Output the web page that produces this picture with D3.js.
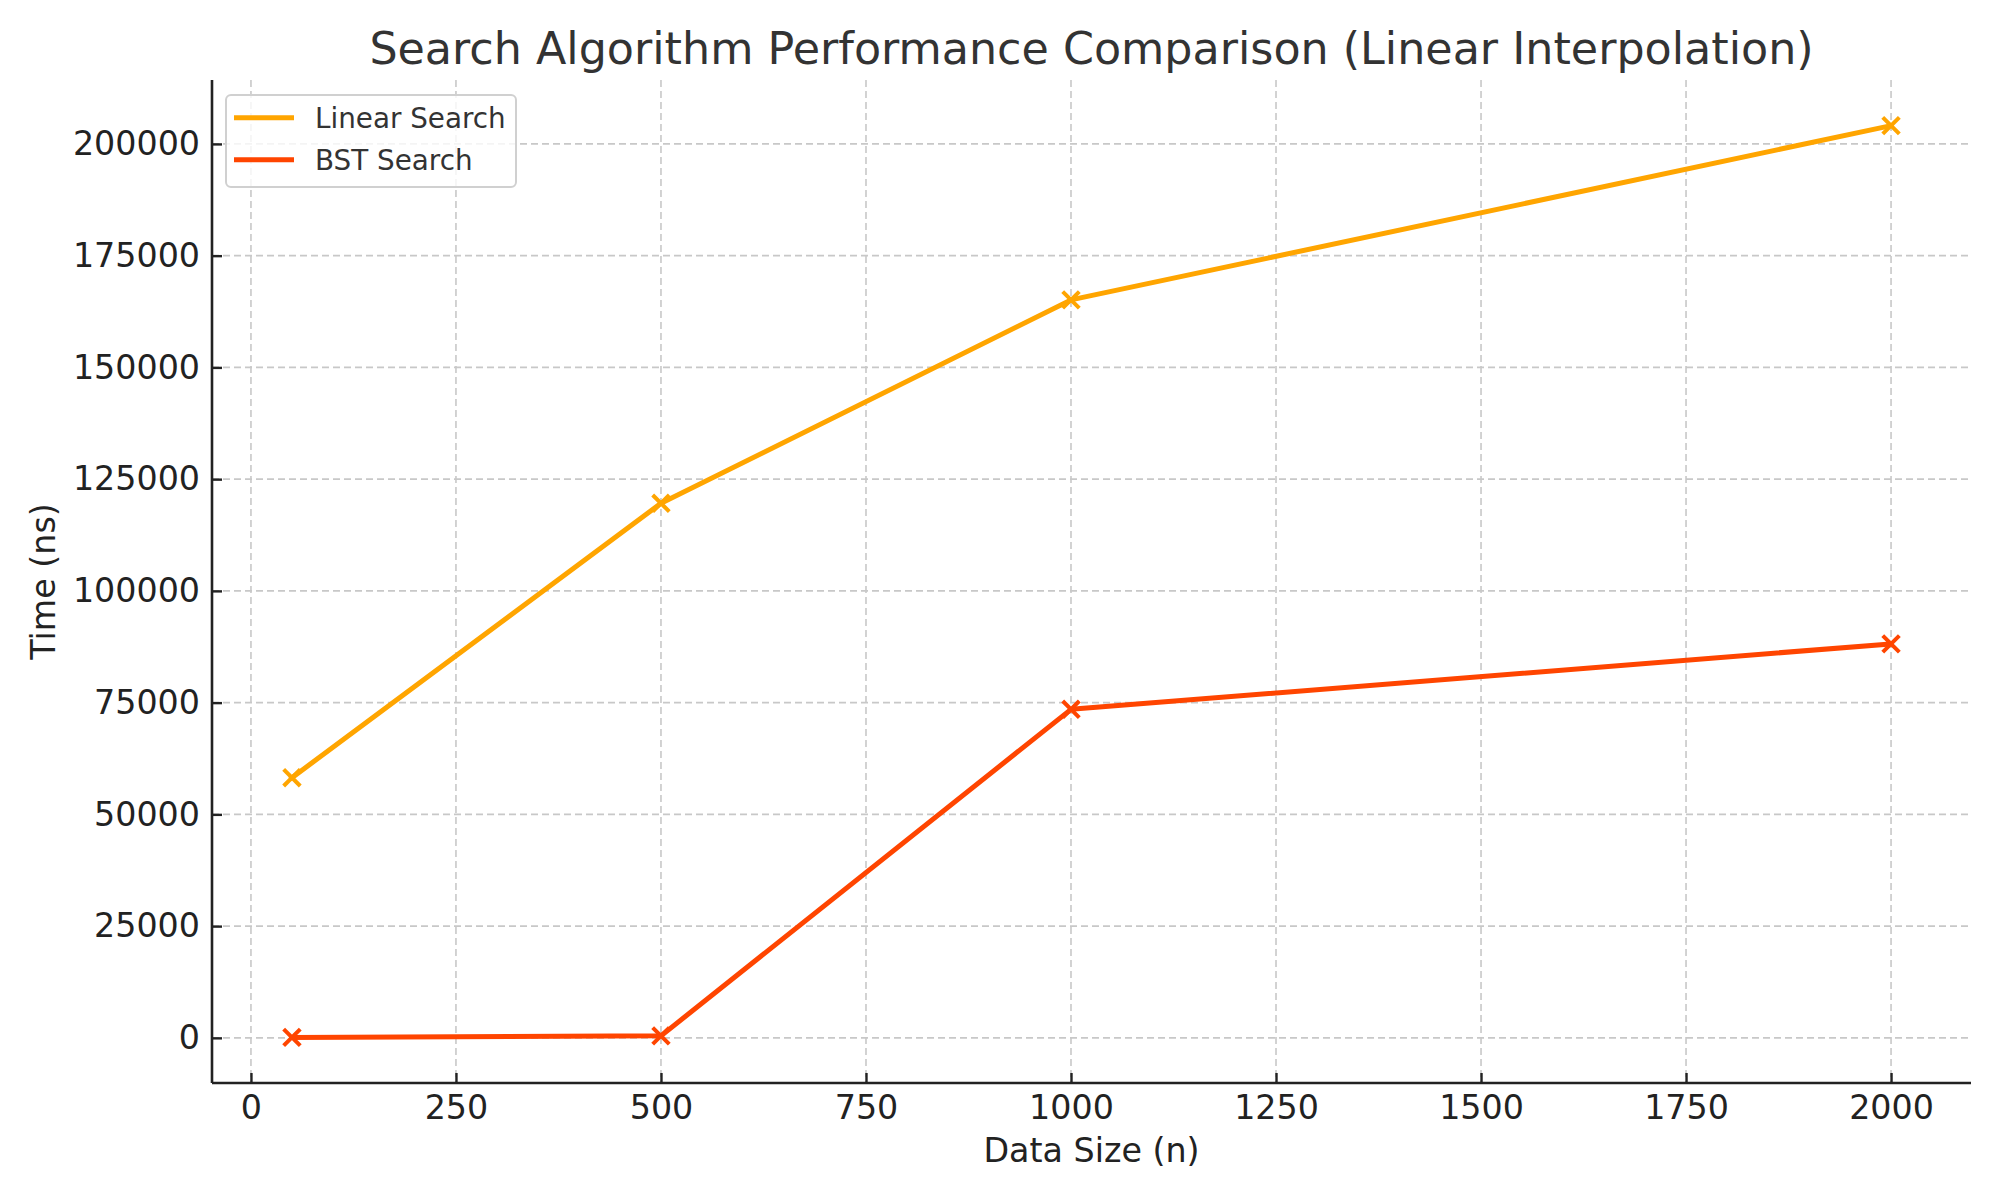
<!DOCTYPE html>
<html>
<head>
<meta charset="utf-8">
<script src="https://cdn.jsdelivr.net/npm/d3@7"></script>
<style>
  html, body { margin: 0; padding: 0; background: #fff; }
  svg { display: block; font-family: "DejaVu Sans", sans-serif; }
</style>
</head>
<body>
<svg id="chart" width="2000" height="1200"></svg>
<script>
// ---- Data ----
const dataSizes = [50, 500, 1000, 2000];
const linearTimes = [58200, 119600, 165100, 204100];
const bstTimes = [100, 450, 73500, 88150];
const seriesNames = ["Linear Search", "BST Search"];
const seriesColors = ["#FFA500", "#FF4500"];
const xTickValues = [0, 250, 500, 750, 1000, 1250, 1500, 1750, 2000];
const yTickValues = [0, 25000, 50000, 75000, 100000, 125000, 150000, 175000, 200000];
const titleText = "Search Algorithm Performance Comparison (Linear Interpolation)";
const xLabelText = "Data Size (n)";
const yLabelText = "Time (ns)";

// ---- Layout ----
const plot = { left: 212, right: 1971, top: 80, bottom: 1083 };
const svg = d3.select("#chart");

// matplotlib-like 5% margins
const xMin = d3.min(dataSizes), xMax = d3.max(dataSizes);
const xPad = (xMax - xMin) * 0.05;
const allY = linearTimes.concat(bstTimes);
const yMin = d3.min(allY), yMax = d3.max(allY);
const yPad = (yMax - yMin) * 0.05;

const x = d3.scaleLinear().domain([xMin - xPad, xMax + xPad]).range([plot.left, plot.right]);
const y = d3.scaleLinear().domain([yMin - yPad, yMax + yPad]).range([plot.bottom, plot.top]);

// ---- Grid ----
const grid = svg.append("g");
grid.selectAll("line.gx").data(xTickValues).enter().append("line")
  .attr("x1", d => x(d)).attr("x2", d => x(d))
  .attr("y1", plot.top).attr("y2", plot.bottom)
  .attr("stroke", "#c8c8c8").attr("stroke-width", 1.6).attr("stroke-dasharray", "7,4");
grid.selectAll("line.gy").data(yTickValues).enter().append("line")
  .attr("x1", plot.left).attr("x2", plot.right)
  .attr("y1", d => y(d)).attr("y2", d => y(d))
  .attr("stroke", "#c8c8c8").attr("stroke-width", 1.6).attr("stroke-dasharray", "7,4");

// ---- Axes ----
const xAxis = d3.axisBottom(x).tickValues(xTickValues).tickFormat(d3.format("d"))
  .tickSizeInner(-10).tickSizeOuter(0).tickPadding(22);
const yAxis = d3.axisLeft(y).tickValues(yTickValues).tickFormat(d3.format("d"))
  .tickSizeInner(-10).tickSizeOuter(0).tickPadding(22);

const gx = svg.append("g").attr("transform", `translate(0,${plot.bottom})`).call(xAxis);
const gy = svg.append("g").attr("transform", `translate(${plot.left},0)`).call(yAxis);

[gx, gy].forEach(g => {
  g.select(".domain").attr("stroke", "#222").attr("stroke-width", 2.6);
  g.selectAll(".tick line").attr("stroke", "#222").attr("stroke-width", 2.4);
  g.selectAll(".tick text").attr("fill", "#222")
    .style("font-family", "'DejaVu Sans', sans-serif").style("font-size", "33.3px");
});
gx.select(".domain").attr("d", `M${plot.left},0H${plot.right}`);
gy.select(".domain").attr("d", `M0,${plot.top}V${plot.bottom}`);
gx.selectAll(".tick text").attr("dy", "0.71em").attr("y", 12);
gy.selectAll(".tick text").attr("x", -12);

// ---- Lines & markers ----
const seriesData = [linearTimes, bstTimes];
const lineGen = d3.line().x((d, i) => x(dataSizes[i])).y(d => y(d));

seriesData.forEach((vals, si) => {
  const g = svg.append("g");
  g.append("path").datum(vals)
    .attr("d", lineGen)
    .attr("fill", "none")
    .attr("stroke", seriesColors[si])
    .attr("stroke-width", 5)
    .attr("stroke-linejoin", "round")
    .attr("stroke-linecap", "square");
  const s = 8.3;
  g.selectAll("path.mk").data(vals).enter().append("path")
    .attr("d", (d, i) => {
      const cx = x(dataSizes[i]), cy = y(d);
      return `M${cx - s},${cy - s}L${cx + s},${cy + s}M${cx - s},${cy + s}L${cx + s},${cy - s}`;
    })
    .attr("stroke", seriesColors[si])
    .attr("stroke-width", 4)
    .attr("fill", "none");
});

// ---- Title & labels ----
svg.append("text")
  .attr("x", (plot.left + plot.right) / 2).attr("y", 64)
  .attr("text-anchor", "middle").attr("fill", "#333")
  .style("font-size", "44.4px").text(titleText);

svg.append("text")
  .attr("x", (plot.left + plot.right) / 2).attr("y", 1162)
  .attr("text-anchor", "middle").attr("fill", "#222")
  .style("font-size", "33.3px").text(xLabelText);

svg.append("text")
  .attr("transform", `translate(55,${(plot.top + plot.bottom) / 2}) rotate(-90)`)
  .attr("text-anchor", "middle").attr("fill", "#222")
  .style("font-size", "33.3px").text(yLabelText);

// ---- Legend ----
const legend = svg.append("g");
legend.append("rect")
  .attr("x", 226).attr("y", 95).attr("width", 290).attr("height", 92)
  .attr("rx", 5).attr("ry", 5)
  .attr("fill", "#fff").attr("fill-opacity", 0.8)
  .attr("stroke", "#d0d0d0").attr("stroke-width", 2);
seriesNames.forEach((name, i) => {
  const ly = 117.7 + i * 42;
  legend.append("line")
    .attr("x1", 234).attr("x2", 294).attr("y1", ly).attr("y2", ly)
    .attr("stroke", seriesColors[i]).attr("stroke-width", 5);
  legend.append("text")
    .attr("x", 315).attr("y", ly + 10.3)
    .attr("fill", "#333").style("font-size", "27.8px").text(name);
});
</script>
</body>
</html>
